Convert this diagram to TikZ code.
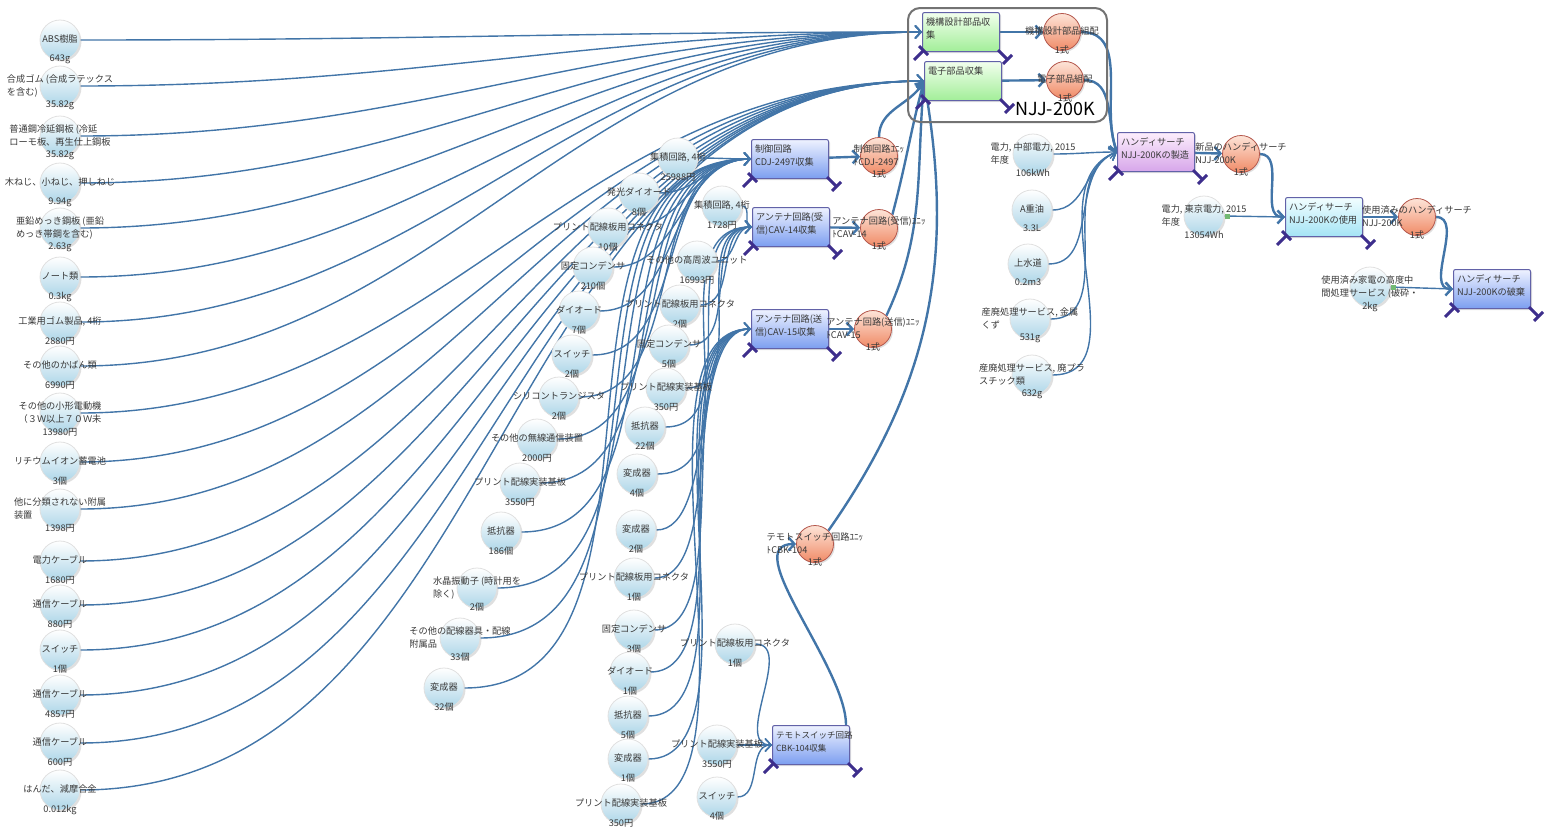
\documentclass[tikz,border=0pt]{standalone}
\usepackage{fontspec}
\setmainfont{Noto Sans CJK JP}
\usetikzlibrary{arrows.meta,shadows,backgrounds}

\definecolor{flowc}{HTML}{4275A8}
\definecolor{plugc}{HTML}{3D2E8C}
\definecolor{boxc}{HTML}{6262A8}
\definecolor{txtc}{HTML}{383838}
\definecolor{inpc}{HTML}{ADD6E8}
\definecolor{outtop}{HTML}{FDE4D8}
\definecolor{outbot}{HTML}{F08A66}
\definecolor{outc}{HTML}{B4574C}
\definecolor{gtop}{HTML}{F2FFEE}
\definecolor{gbot}{HTML}{A2EE98}
\definecolor{btop}{HTML}{EEF2FF}
\definecolor{bbot}{HTML}{7C9EF0}
\definecolor{ptop}{HTML}{FCEEFC}
\definecolor{pbot}{HTML}{D7A6EA}
\definecolor{ctop}{HTML}{F2FEFF}
\definecolor{cbot}{HTML}{A4E4F5}

\newcommand{\lbl}[1]{\makebox[0pt]{\begin{tabular}{@{}l@{}}#1\end{tabular}}}
\newcommand{\plugs}[1]{%
  \draw[plug] ([shift={(-8,8)}]#1.south west) -- ([shift={(2,-2)}]#1.south west);
  \draw[plug] ([shift={(-3,-6)}]#1.south west) -- ([shift={(6,3)}]#1.south west);
  \draw[plug] ([shift={(-2,-2)}]#1.south east) -- ([shift={(8,8)}]#1.south east);
  \draw[plug] ([shift={(3,12)}]#1.south east) -- ([shift={(12,3)}]#1.south east);}

\begin{document}
\begin{tikzpicture}[x=1pt, y=-1pt,
   font=\fontsize{9.2}{13}\selectfont, text=txtc,
   label distance=-9pt,
   softshadow/.style={drop shadow={shadow xshift=1.5pt,shadow yshift=-1.5pt,opacity=.25}},
   inp/.style={circle, minimum size=40pt, inner sep=0pt, top color=white,
       bottom color=inpc, draw=black!12, line width=.8pt, softshadow},
   outp/.style={circle, minimum size=37pt, inner sep=0pt, top color=outtop,
       bottom color=outbot, draw=outc, line width=.8pt, softshadow},
   proc/.style={rectangle, rounded corners=2pt, draw=boxc, line width=1pt,
       text width=70pt, align=left, inner xsep=3.5pt, inner ysep=4pt,
       text height=8.5pt, text depth=22.5pt, softshadow},
   procgreen/.style={proc, top color=gtop, bottom color=gbot},
   procblue/.style={proc, top color=btop, bottom color=bbot},
   procpurple/.style={proc, top color=ptop, bottom color=pbot},
   proccyan/.style={proc, top color=ctop, bottom color=cbot},
   flow/.style={draw=flowc, line width=1.4pt, -{Straight Barb[length=6pt,width=13pt]}},
   big/.style={flow, line width=2.4pt},
   plug/.style={draw=plugc, line width=3pt},
   grp/.style={draw=black!55, line width=2pt, rounded corners=12pt,
       minimum width=199pt, minimum height=114pt},
   gicon/.style={rectangle, fill=green!50!black!55, minimum size=5pt, inner sep=0pt}]

\useasboundingbox (0,0) rectangle (1546,838);

\node[grp] (grp) at (1007.5,65) {};
\node[font=\fontsize{18}{20}\selectfont, text=black] (grplbl) at (1055,109) {NJJ-200K};

\node[procgreen] (mech) at (961,32) {機構設計部品収\\集};
\node[procgreen] (elec) at (963,81) {電子部品収集};
\node[procblue] (ctrl) at (790,159) {制御回路\\CDJ-2497収集};
\node[procblue] (rx) at (791,227) {アンテナ回路(受\\信)CAV-14収集};
\node[procblue] (tx) at (790,329) {アンテナ回路(送\\信)CAV-15収集};
\node[procblue, font=\fontsize{8.5}{13}\selectfont] (sw) at (811,745) {テモトスイッチ回路\\CBK-104収集};
\node[procpurple] (make) at (1156,152) {ハンディサーチ\\NJJ-200Kの製造};
\node[proccyan] (use) at (1324,217) {ハンディサーチ\\NJJ-200Kの使用};
\node[procblue] (disp) at (1492,289) {ハンディサーチ\\NJJ-200Kの破棄};
\foreach \b in {mech,elec,ctrl,rx,tx,sw,make,use,disp} {\plugs{\b}}

\foreach \i/\py/\ldist/\nm/\am in {
  1/40/-9/{ABS樹脂}/643g,
  2/86/-3/{合成ゴム (合成ラテックス\\を含む)}/35.82g,
  3/136/-3/{普通鋼冷延鋼板 (冷延\\ローモ板、再生仕上鋼板}/35.82g,
  4/183/-9/{木ねじ、小ねじ、押しねじ}/9.94g,
  5/228/-3/{亜鉛めっき鋼板 (亜鉛\\めっき帯鋼を含む)}/2.63g,
  6/277/-9/{ノート類}/0.3kg,
  7/322/-9/{工業用ゴム製品, 4桁}/2880円,
  8/366/-9/{その他のかばん類}/6990円,
  9/413/-3/{その他の小形電動機\\（３Ｗ以上７０Ｗ未}/13980円,
  10/462/-9/{リチウムイオン蓄電池}/3個,
  11/509/-3/{他に分類されない附属\\装置}/1398円,
  12/561/-9/{電力ケーブル}/1680円,
  13/605/-9/{通信ケーブル}/880円,
  14/650/-9/{スイッチ}/1個,
  15/695/-9/{通信ケーブル}/4857円,
  16/743/-9/{通信ケーブル}/600円,
  17/790/-9/{はんだ、減摩合金}/0.012kg}
  \node[inp, label distance=\ldist pt, label=below:\am] (a\i) at (60,\py) {\lbl{\nm}};

\foreach \i/\px/\py/\ldist/\nm/\am in {
  1/678/158/-9/{集積回路, 4桁}/25988円,
  2/639/193/-9/{発光ダイオード}/8個,
  3/608/228/-9/{プリント配線板用コネクタ}/10個,
  4/593/267/-9/{固定コンデンサ}/210個,
  5/579/311/-9/{ダイオード}/7個,
  6/572/355/-9/{スイッチ}/2個,
  7/559/397/-9/{シリコントランジスタ}/2個,
  8/537/439/-9/{その他の無線通信装置}/2000円,
  9/520/483/-9/{プリント配線実装基板}/3550円,
  10/501/532/-9/{抵抗器}/186個,
  11/477/588/-3/{水晶振動子 (時計用を\\除く)}/2個,
  12/460/638/-3/{その他の配線器具・配線\\附属品}/33個,
  13/444/688/-9/{変成器}/32個}
  \node[inp, label distance=\ldist pt, label=below:\am] (b\i) at (\px,\py) {\lbl{\nm}};

\foreach \i/\px/\py/\nm/\am in {
  1/722/206/{集積回路, 4桁}/1728円,
  2/697/261/{その他の高周波ユニット}/16993円,
  3/680/305/{プリント配線板用コネクタ}/2個,
  4/669/345/{固定コンデンサ}/5個,
  5/666/388/{プリント配線実装基板}/350円,
  6/645/427/{抵抗器}/22個,
  7/637/474/{変成器}/4個}
  \node[inp, label=below:\am] (c\i) at (\px,\py) {\lbl{\nm}};

\foreach \i/\px/\py/\nm/\am in {
  1/636/530/{変成器}/2個,
  2/634/578/{プリント配線板用コネクタ}/1個,
  3/634/630/{固定コンデンサ}/3個,
  4/630/672/{ダイオード}/1個,
  5/628/716/{抵抗器}/5個,
  6/628/759/{変成器}/1個,
  7/621/804/{プリント配線実装基板}/350円}
  \node[inp, label=below:\am] (d\i) at (\px,\py) {\lbl{\nm}};

\foreach \i/\px/\py/\nm/\am in {
  1/735/644/{プリント配線板用コネクタ}/1個,
  2/717/745/{プリント配線実装基板}/3550円,
  3/717/797/{スイッチ}/4個}
  \node[inp, label=below:\am] (e\i) at (\px,\py) {\lbl{\nm}};

\foreach \n/\px/\py/\ldist/\nm/\am in {
  r1/1033/154/-3/{電力, 中部電力, 2015\\年度}/106kWh,
  r2/1032/210/-9/{A重油}/3.3L,
  r3/1028/264/-9/{上水道}/0.2m3,
  r4/1030/319/-3/{産廃処理サービス, 金属\\くず}/531g,
  r5/1032/375/-3/{産廃処理サービス, 廃プラ\\スチック類}/632g,
  pw2/1204/216/-3/{電力, 東京電力, 2015\\年度}/13054Wh,
  recyc/1370/287/-3/{使用済み家電の高度中\\間処理サービス (破砕・}/2kg}
  \node[inp, label distance=\ldist pt, label=below:\am] (\n) at (\px,\py) {\lbl{\nm}};
\node[gicon] (pw2g) at ([xshift=3]pw2.east) {};
\node[gicon] (recycg) at ([xshift=3]recyc.east) {};

\foreach \n/\px/\py/\ldist/\nm in {
  mecho/1062/32/-9/{機構設計部品組配},
  eleco/1065/80/-9/{電子部品組配},
  ctrlo/879/156/-3/{制御回路ﾕﾆｯ\\ﾄCDJ-2497},
  rxo/879/228/-3/{アンテナ回路(受信)ﾕﾆｯ\\ﾄCAV-14},
  txo/873/329/-3/{アンテナ回路(送信)ﾕﾆｯ\\ﾄCAV-15},
  swo/815/544/-3/{テモトスイッチ回路ﾕﾆｯ\\ﾄCBK-104},
  newp/1241/154/-3/{新品のハンディサーチ\\NJJ-200K},
  usedp/1417/217/-3/{使用済みのハンディサーチ\\NJJ-200K}}
  \node[outp, label distance=\ldist pt, label=below:1式] (\n) at (\px,\py) {\lbl{\nm}};

\begin{scope}[on background layer]
  \foreach \i in {1,...,8}  \draw[flow] (a\i.east) to[out=0,in=180] (mech.west);
  \foreach \i in {9,...,17} \draw[flow] (a\i.east) to[out=0,in=180] (elec.west);
  \foreach \i in {1,...,13} \draw[flow] (b\i.east) to[out=0,in=180] (ctrl.west);
  \foreach \i in {1,...,7}  \draw[flow] (c\i.east) to[out=0,in=180] (rx.west);
  \foreach \i in {1,...,7}  \draw[flow] (d\i.east) to[out=0,in=180,looseness=.7] (tx.west);
  \foreach \i in {1,...,3}  \draw[flow] (e\i.east) to[out=0,in=180] (sw.west);
  \draw[big] (mech) -- (mecho);
  \draw[big] (elec) -- (eleco);
  \draw[big] (ctrl) -- (ctrlo);
  \draw[big] (rx) -- (rxo);
  \draw[big] (tx) -- (txo);
  \draw[big] ([xshift=-4]sw.north east) to[out=90,in=180,looseness=.8] (swo.west);
  \draw[big] (ctrlo.north) to[out=90,in=240] (elec.west);
  \draw[big] (rxo.north east) to[out=75,in=255] (elec.west);
  \draw[big] (txo.north east) to[out=65,in=265] (elec.west);
  \draw[big] (swo.north east) to[out=55,in=280] (elec.west);
  \draw[big] (mecho.east) to[out=0,in=110] (make.west);
  \draw[big] (eleco.east) to[out=0,in=110] (make.west);
  \draw[flow] (r1.east) to[out=0,in=180] (make.west);
  \foreach \i in {2,...,5} \draw[flow] (r\i.east) to[out=0,in=200] (make.west);
  \draw[big] (make) -- (newp);
  \draw[big] (newp.east) to[out=0,in=180] (use.west);
  \draw[flow] (pw2.east) -- (use.west);
  \draw[big] (use) -- (usedp);
  \draw[big] (usedp.east) to[out=0,in=180] (disp.west);
  \draw[flow] (recyc.east) -- (disp.west);
\end{scope}
\end{tikzpicture}
\end{document}
